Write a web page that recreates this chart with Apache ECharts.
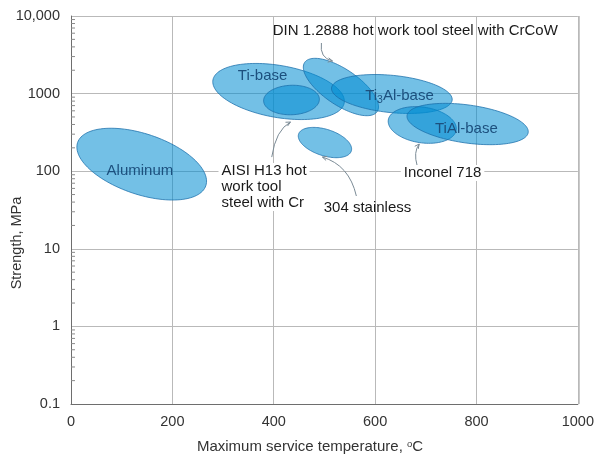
<!DOCTYPE html>
<html><head><meta charset="utf-8">
<script src="https://cdn.jsdelivr.net/npm/echarts@6/dist/echarts.min.js"></script>
<style>html,body{margin:0;padding:0;background:#fff}#c{width:597px;height:459px}</style>
</head><body><div id="c"></div>
<script>
// ---- data ----
const materials = ['Aluminum', 'Ti-base', 'AISI H13', 'DIN 1.2888', 'Ti3Al-base', 'Inconel 718', 'TiAl-base', '304 stainless'];
// major axis of each property envelope: from (tempStart, strengthStart) to (tempEnd, strengthEnd)
const tempStart = [13, 280, 380, 461, 514, 626, 663, 449];
const strengthStart = [234, 1496, 803, 2523, 1181, 457, 522, 301];
const tempEnd = [266, 539, 490, 604, 752, 760, 902, 553];
const strengthEnd = [65, 757, 851, 586, 827, 340, 315, 182];
// half width of envelope (decades of strength)
const halfWidthDecades = [0.39, 0.335, 0.19, 0.23, 0.24, 0.23, 0.245, 0.17];
const xTickLabels = ['0', '200', '400', '600', '800', '1000'];
const yTicks = [0.1, 1, 10, 100, 1000, 10000];
const yTickLabels = ['0.1', '1', '10', '100', '1000', '10,000'];
const minorMultipliers = [2, 3, 4, 5, 6, 7, 8, 9];

// ---- annotations (anchors in data units) ----
const envelopeLabels = [
  { t: 136, s: 100, text: 'Aluminum' },
  { t: 378, s: 1687, text: 'Ti-base' },
  { t: 648, s: 931, text: 'Ti{sub|3}Al-base' },
  { t: 780, s: 350, text: 'TiAl-base' }
];
const noteLabels = [
  { t: 398, s: 6412, text: 'DIN 1.2888 hot work tool steel with CrCoW', align: 'left', bg: false },
  { t: 291, s: 62.5, text: 'AISI H13 hot\nwork tool\nsteel with Cr', align: 'left', bg: true },
  { t: 585, s: 33.6, text: '304 stainless', align: 'center', bg: false },
  { t: 733, s: 94.8, text: 'Inconel 718', align: 'center', bg: true }
];
const leaders = [
  [[494, 4488], [490, 2877], [516, 2630]],
  [[396, 152], [404, 340], [433, 430]],
  [[563, 47.9], [549, 120], [496, 152]],
  [[683, 117], [675, 177], [687, 224]]
];

const FONT = 'Liberation Sans, Arial, sans-serif';
const ellipseData = materials.map((m, i) => ({ name: m, value: [tempStart[i], strengthStart[i], tempEnd[i], strengthEnd[i], halfWidthDecades[i]] }));
const minorData = [];
yTicks.slice(0, -1).forEach(d => minorMultipliers.forEach(m => minorData.push([0, d * m])));

const chart = echarts.init(document.getElementById('c'));
chart.setOption({
  animation: false,
  grid: { left: 71, right: 18, top: 16, bottom: 55 },
  xAxis: {
    type: 'value', min: 0, max: 1000, interval: 200,
    axisLine: { show: true, lineStyle: { color: '#6e6e6e', width: 1 } },
    axisTick: { show: false },
    axisLabel: { color: '#333', fontSize: 14.5, fontFamily: FONT, margin: 10,
      formatter: v => xTickLabels[Math.round(v / 200)] },
    splitLine: { show: true, lineStyle: { color: '#b9b9b9', width: 1 } }
  },
  yAxis: {
    type: 'log', logBase: 10, min: 0.1, max: 10000,
    axisLine: { show: true, lineStyle: { color: '#6e6e6e', width: 1 } },
    axisTick: { show: false },
    axisLabel: { color: '#333', fontSize: 14.5, fontFamily: FONT, margin: 11,
      formatter: v => yTickLabels[Math.round(Math.log10(v)) + 1] },
    splitLine: { show: true, lineStyle: { color: '#b9b9b9', width: 1 } }
  },
  graphic: [
    { type: 'rect', shape: { x: 579, y: 16, width: 0, height: 388 }, style: { stroke: '#b9b9b9', lineWidth: 1 }, silent: true },
    { type: 'text', x: 17, y: 243, rotation: Math.PI / 2,
      style: { text: 'Strength, MPa', fill: '#333', fontSize: 14.5, fontFamily: FONT, align: 'center', verticalAlign: 'middle' } },
    { type: 'text', x: 310, y: 447,
      style: { text: 'Maximum service temperature, {s|o}C', fill: '#333', fontSize: 15, fontFamily: FONT, align: 'center', verticalAlign: 'middle',
        rich: { s: { fontSize: 9.5, fontFamily: FONT, fill: '#333', verticalAlign: 'top', padding: [0, 0, 6, 0] } } } }
  ],
  series: [
    {
      type: 'custom', name: 'minorTicks', data: minorData, z: 3,
      renderItem: (params, api) => {
        const p = api.coord([0, api.value(1)]);
        return { type: 'line', shape: { x1: p[0], y1: p[1], x2: p[0] + 4, y2: p[1] }, style: { stroke: '#8a8a8a', lineWidth: 1 } };
      }
    },
    {
      type: 'custom', name: 'envelopes', data: ellipseData, z: 4,
      renderItem: (params, api) => {
        const p1 = api.coord([api.value(0), api.value(1)]);
        const p2 = api.coord([api.value(2), api.value(3)]);
        const cx = (p1[0] + p2[0]) / 2, cy = (p1[1] + p2[1]) / 2;
        const dx = (p2[0] - p1[0]) / 2, dy = (p2[1] - p1[1]) / 2;
        const a = Math.hypot(dx, dy), ux = dx / a, uy = dy / a;
        const b = Math.abs(api.coord([0, 1])[1] - api.coord([0, Math.pow(10, api.value(4))])[1]);
        const pts = [];
        for (let k = 0; k < 120; k++) {
          const t = k / 120 * 2 * Math.PI;
          const c = Math.cos(t), s = Math.sin(t);
          pts.push([cx + a * c * ux - b * s * uy, cy + a * c * uy + b * s * ux]);
        }
        return { type: 'polygon', shape: { points: pts },
          style: { fill: 'rgba(0,140,210,0.55)', stroke: 'rgba(25,110,170,0.75)', lineWidth: 1 } };
      }
    },
    {
      type: 'custom', name: 'leaders', data: leaders.map(l => [l[0][0], l[0][1]]), z: 5,
      renderItem: (params, api) => {
        const l = leaders[params.dataIndex];
        const p0 = api.coord(l[0]), pc = api.coord(l[1]), p1 = api.coord(l[2]);
        const ang = Math.atan2(p1[1] - pc[1], p1[0] - pc[0]);
        const L = 5, w = 0.45;
        const a1 = [p1[0] - L * Math.cos(ang - w), p1[1] - L * Math.sin(ang - w)];
        const a2 = [p1[0] - L * Math.cos(ang + w), p1[1] - L * Math.sin(ang + w)];
        return { type: 'group', children: [
          { type: 'bezierCurve', shape: { x1: p0[0], y1: p0[1], x2: p1[0], y2: p1[1], cpx1: pc[0], cpy1: pc[1] },
            style: { stroke: '#7a8a95', lineWidth: 1, fill: null } },
          { type: 'polyline', shape: { points: [a1, p1, a2] }, style: { stroke: '#7a8a95', lineWidth: 1, fill: null } }
        ] };
      }
    },
    {
      type: 'custom', name: 'envelopeLabels', data: envelopeLabels.map(e => [e.t, e.s]), z: 6,
      renderItem: (params, api) => {
        const e = envelopeLabels[params.dataIndex];
        const p = api.coord([e.t, e.s]);
        return { type: 'text', x: p[0], y: p[1],
          style: { text: e.text, fill: '#1c507e', fontSize: 15, fontFamily: FONT, align: 'center', verticalAlign: 'middle',
            rich: { sub: { fontSize: 10.5, fontFamily: FONT, fill: '#1c507e', padding: [8, 0, 0, 0] } } } };
      }
    },
    {
      type: 'custom', name: 'notes', data: noteLabels.map(e => [e.t, e.s]), z: 6,
      renderItem: (params, api) => {
        const e = noteLabels[params.dataIndex];
        const p = api.coord([e.t, e.s]);
        return { type: 'text', x: p[0], y: p[1],
          style: { text: e.text, fill: '#1a1a1a', fontSize: 15, fontFamily: FONT, lineHeight: 16,
            align: e.align, verticalAlign: 'middle',
            backgroundColor: e.bg ? '#fff' : null, padding: e.bg ? [0, 3, 0, 3] : 0 } };
      }
    }
  ]
});
</script></body></html>
